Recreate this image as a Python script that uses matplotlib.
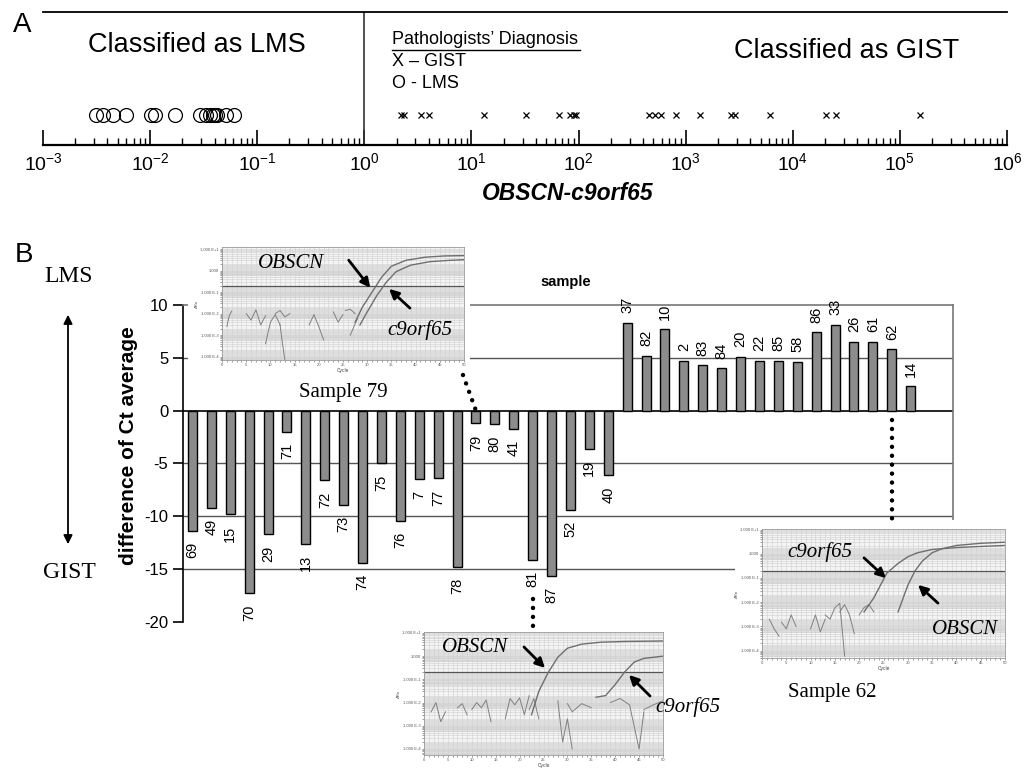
import numpy as np
import matplotlib
matplotlib.use('Agg')
import matplotlib.pyplot as plt
from matplotlib.lines import Line2D
from matplotlib.patches import Rectangle, FancyArrowPatch
from matplotlib.ticker import LogLocator, MultipleLocator, NullFormatter

plt.rcParams['font.family'] = 'Liberation Sans'
plt.rcParams['mathtext.fontset'] = 'custom'
plt.rcParams['mathtext.rm'] = 'Liberation Sans'
plt.rcParams['mathtext.it'] = 'Liberation Sans:italic'
plt.rcParams['mathtext.bf'] = 'Liberation Sans:bold'
plt.rcParams['axes.unicode_minus'] = False

# ---- panel A data: OBSCN / c9orf65 ratio ----
lms_ratio = [0.0031, 0.0036, 0.0045, 0.0060, 0.0103, 0.011, 0.0169, 0.029,
             0.033, 0.0365, 0.039, 0.0407, 0.0425, 0.0515, 0.061]
gist_ratio = [2.2, 2.35, 3.4, 4.0, 13, 32, 65, 84, 90, 94, 450, 520, 590,
              820, 1370, 2660, 2900, 6140, 20400, 25200, 153000]

# ---- panel B data: difference of Ct average per sample ----
samples = ['69', '49', '15', '70', '29', '71', '13', '72', '73', '74', '75',
           '76', '7', '77', '78', '79', '80', '41', '81', '87', '52', '19',
           '40', '37', '82', '10', '2', '83', '84', '20', '22', '85', '58',
           '86', '33', '26', '61', '62', '14']
ct_diff = [-11.4, -9.2, -9.8, -17.3, -11.7, -2.0, -12.6, -6.6, -8.9, -14.4,
           -5.0, -10.4, -6.5, -6.4, -14.8, -1.2, -1.3, -1.7, -14.1, -15.6,
           -9.4, -3.6, -6.1, 8.3, 5.2, 7.7, 4.7, 4.3, 4.0, 5.1, 4.7, 4.7,
           4.6, 7.4, 8.1, 6.5, 6.5, 5.8, 2.3]

# ---- amplification plot insets (cycle, delta Rn) ----
s79_obscn_cyc = [27.5, 29, 31, 33, 35, 38, 42, 46, 50]
s79_obscn_val = [4e-3, 0.02, 0.1, 0.5, 1.6, 3.0, 4.2, 4.8, 5.0]
s79_c9_cyc = [28.5, 30, 32, 34, 36, 39, 43, 47, 50]
s79_c9_val = [3e-3, 0.012, 0.07, 0.3, 0.9, 1.8, 2.6, 3.0, 3.2]
s79_noise = [([1, 1.5, 2], [2.5e-3, 8e-3, 1.3e-2]),
             ([5, 6, 7, 8, 9], [1e-2, 5e-3, 1.5e-2, 3e-3, 8e-3]),
             ([9, 10, 11, 12], [4e-4, 4e-3, 9e-3, 3e-3]),
             ([11, 12, 13, 14], [1e-2, 1.4e-2, 7e-3, 1e-2]),
             ([12, 12.5, 13], [3e-3, 4e-4, 7e-5]),
             ([18, 19, 20, 21], [3e-3, 9e-3, 2.5e-3, 6e-4]),
             ([23, 24, 25], [1.2e-2, 4e-3, 9e-3]),
             ([25.5, 26.5, 27.5], [1.4e-2, 1.6e-2, 1e-2]),
             ([26.5, 28], [1e-3, 6e-3])]

s81_obscn_cyc = [22.5, 24, 26, 28, 30, 33, 37, 42, 50]
s81_obscn_val = [3e-3, 0.03, 0.2, 0.9, 2.2, 3.3, 4.0, 4.3, 4.5]
s81_c9_cyc = [36, 38, 40, 42, 44, 46, 50]
s81_c9_val = [0.017, 0.02, 0.06, 0.21, 0.56, 0.8, 1.0]
s81_noise = [([1.5, 2.5, 3.5, 4.5], [4e-3, 1e-2, 1.5e-3, 4e-3]),
             ([7, 8, 9], [6e-3, 9e-3, 3e-3]),
             ([10, 11, 12, 13, 14], [5e-3, 1e-2, 6e-3, 1.3e-2, 1.5e-3]),
             ([17, 18, 19, 20, 21, 22], [2e-3, 1.5e-2, 8e-3, 1.6e-2, 3e-3, 2e-2]),
             ([22, 23, 24], [5e-3, 1.5e-2, 2e-3]),
             ([28, 29, 30, 31], [1.2e-2, 2e-4, 2e-3, 1e-4]),
             ([30, 31, 33, 35], [9e-3, 4e-3, 9e-3, 6e-3]),
             ([39, 41, 43, 45, 46], [1e-2, 1.5e-2, 8e-3, 1e-4, 4e-3]),
             ([46, 48, 50], [5e-3, 8e-3, 1.2e-2])]

s62_c9_cyc = [21, 23, 25.7, 28, 30, 32, 35, 40, 45, 50]
s62_c9_val = [4e-3, 0.015, 0.16, 0.4, 0.75, 1.1, 1.5, 1.8, 2.0, 2.2]
s62_obscn_cyc = [28, 30, 31.5, 33, 35, 37, 40, 45, 50]
s62_obscn_val = [4e-3, 0.05, 0.2, 0.5, 1.1, 1.6, 2.2, 2.7, 3.0]
s62_noise = [([1.5, 2.5, 3.5], [2e-3, 8e-4, 4e-4]),
             ([4, 5, 6, 7], [1.5e-3, 8e-4, 3e-3, 1e-3]),
             ([10, 11, 12, 13], [8e-4, 3e-3, 6e-4, 2e-3]),
             ([13, 14, 15, 16, 17], [3e-3, 2e-3, 6e-3, 9e-3, 6e-5]),
             ([16, 17, 18, 19], [4e-3, 8e-3, 3e-3, 5e-4]),
             ([20, 21, 22, 23], [3e-3, 6e-3, 8e-3, 4e-3])]

decades = [1e-4, 1e-3, 1e-2, 1e-1, 1, 10]
decade_labels = ['1.000 E-4', '1.000 E-3', '1.000 E-2', '1.000 E-1',
                 '1.000', '1.000 E+1']

W, H = 1028, 773
fig = plt.figure(figsize=(W / 100, H / 100), dpi=100)


def px_axes(l, t, r, b):
    return fig.add_axes([l / W, 1 - b / H, (r - l) / W, (b - t) / H])


def ftext(x, y, s, **kw):
    fig.text(x / W, 1 - y / H, s, ha='center', va='center', **kw)


def farrow(x0, y0, x1, y1, style='-|>', lw=2.0, ms=14):
    fig.add_artist(FancyArrowPatch((x0 / W, 1 - y0 / H), (x1 / W, 1 - y1 / H),
                                   transform=fig.transFigure, arrowstyle=style,
                                   mutation_scale=ms, lw=lw, color='k', zorder=4))


# ================= panel A =================
ax_a = px_axes(43, 12, 1007, 145)
ax_a.set_xscale('log')
ax_a.set_xlim(1e-3, 1e6)
ax_a.set_ylim(0, 1)
ax_a.plot(lms_ratio, np.full(len(lms_ratio), 0.226), 'o', mfc='none', mec='k',
          ms=10, mew=0.9, ls='none')
ax_a.plot(gist_ratio, np.full(len(gist_ratio), 0.226), 'x', color='k',
          ms=4.5, mew=0.9, ls='none')
ax_a.axvline(1, color='#333333', lw=1.2)
for s in ['left', 'right']:
    ax_a.spines[s].set_visible(False)
ax_a.spines['top'].set_linewidth(1.3)
ax_a.spines['bottom'].set_linewidth(1.6)
ax_a.set_yticks([])
ax_a.xaxis.set_major_locator(LogLocator(base=10, numticks=12))
ax_a.xaxis.set_minor_locator(LogLocator(base=10, subs=np.arange(2, 10), numticks=12))
ax_a.xaxis.set_minor_formatter(NullFormatter())
ax_a.tick_params(axis='x', which='major', direction='in', length=11, width=1.2,
                 labelsize=14, pad=5)
ax_a.tick_params(axis='x', which='minor', direction='in', length=5, width=1)

ftext(22, 25, 'A', fontsize=20)
ftext(197, 45, 'Classified as LMS', fontsize=19.5)
ftext(847, 51, 'Classified as GIST', fontsize=19.5)
fig.text(392 / W, 1 - 40 / H, 'Pathologists\u2019 Diagnosis', fontsize=13, va='center')
fig.add_artist(Line2D([392 / W, 580 / W], [1 - 50 / H, 1 - 50 / H], color='k', lw=1))
fig.text(392 / W, 1 - 62 / H, 'X \u2013 GIST', fontsize=13, va='center')
fig.text(392 / W, 1 - 83 / H, 'O - LMS', fontsize=13, va='center')
ftext(568, 193, 'OBSCN-c9orf65', fontsize=16.5, fontweight='bold', style='italic')

# ================= panel B =================
ax_b = px_axes(183, 305, 953, 622)
xpos = np.arange(len(samples))
ax_b.bar(xpos, ct_diff, width=0.48, color='#8c8c8c', edgecolor='k',
         linewidth=1, zorder=3)
ax_b.set_xlim(-0.5, 40.24)
ax_b.set_ylim(-20, 10)
for g in [5, -5, -10, -15]:
    ax_b.axhline(g, color='#555555', lw=1, zorder=1)
ax_b.axhline(0, color='k', lw=1.2, zorder=2)
ax_b.spines['bottom'].set_visible(False)
ax_b.spines['top'].set_color('#777777')
ax_b.spines['right'].set_color('#777777')
for s in ['top', 'right', 'left']:
    ax_b.spines[s].set_linewidth(1.2)
ax_b.set_xticks([])
ax_b.set_yticks([-20, -15, -10, -5, 0, 5, 10])
ax_b.tick_params(axis='y', direction='out', length=7, width=1.2, labelsize=12)
for x, v, lab in zip(xpos, ct_diff, samples):
    if v < 0:
        ax_b.annotate(lab, (x, v), xytext=(0, -8), textcoords='offset points',
                      rotation=90, ha='center', va='top', fontsize=10.5)
    else:
        ax_b.annotate(lab, (x, v), xytext=(0, 7), textcoords='offset points',
                      rotation=90, ha='center', va='bottom', fontsize=10.5)

ftext(566, 282, 'sample', fontsize=10.5, fontweight='bold')
ftext(129, 446, 'difference of Ct average', fontsize=15, fontweight='bold',
      rotation=90)
ftext(24, 255, 'B', fontsize=20)
ftext(69, 277, 'LMS', fontsize=17, family='Liberation Serif')
ftext(69, 572, 'GIST', fontsize=17, family='Liberation Serif')
farrow(68, 547, 68, 312, style='<|-|>', lw=1.3, ms=13)


# ================= insets =================
def draw_inset(frame, back, ylim, curves, noise):
    fig.add_artist(Rectangle((back[0] / W, 1 - back[3] / H),
                             (back[2] - back[0]) / W, (back[3] - back[1]) / H,
                             transform=fig.transFigure, facecolor='white',
                             edgecolor='none', zorder=0.5))
    ax = px_axes(*frame)
    ax.set_zorder(1)
    ax.set_facecolor('#f4f4f4')
    ax.set_yscale('log')
    ax.set_ylim(*ylim)
    ax.set_xlim(0, 50)
    for k in range(-4, 1):
        ax.axhspan(10.0 ** k * 0.55, 10.0 ** k * 1.8, color='#dedede', lw=0, zorder=0)
    ax.set_yticks(decades, labels=decade_labels)
    ax.yaxis.set_minor_locator(LogLocator(base=10, subs=np.arange(2, 10)))
    ax.yaxis.set_minor_formatter(NullFormatter())
    ax.xaxis.set_major_locator(MultipleLocator(5))
    ax.xaxis.set_minor_locator(MultipleLocator(1))
    ax.grid(which='both', color='#d0d0d0', lw=0.4)
    ax.set_axisbelow(True)
    ax.tick_params(which='both', labelsize=3, length=1.2, width=0.4, pad=1,
                   colors='#555555')
    ax.set_xlabel('Cycle', fontsize=3.5, labelpad=1, color='#444444')
    ax.set_ylabel('\u0394Rn', fontsize=3, labelpad=1, color='#444444')
    for s in ax.spines.values():
        s.set_color('#999999')
        s.set_linewidth(0.6)
    ax.axhline(0.2, color='#555555', lw=0.9)
    for cx, cy in noise:
        ax.plot(cx, cy, color='#808080', lw=0.7)
    for cx, cy in curves:
        ax.plot(cx, cy, color='#6f6f6f', lw=1.0)
    return ax


draw_inset((222, 247, 464, 360), (188, 238, 470, 380), (7e-5, 12.5),
           [(s79_obscn_cyc, s79_obscn_val), (s79_c9_cyc, s79_c9_val)], s79_noise)
draw_inset((424, 632, 663, 755), (395, 625, 670, 773), (5.5e-5, 11),
           [(s81_obscn_cyc, s81_obscn_val), (s81_c9_cyc, s81_c9_val)], s81_noise)
draw_inset((762, 529, 1005, 658), (735, 520, 1015, 680), (5e-5, 10.5),
           [(s62_c9_cyc, s62_c9_val), (s62_obscn_cyc, s62_obscn_val)], s62_noise)

serif_it = dict(fontsize=15, family='Liberation Serif', style='italic', zorder=5)
ftext(291, 263, 'OBSCN', **serif_it)
farrow(347, 258, 372, 290)
ftext(420, 330, 'c9orf65', **serif_it)
farrow(412, 310, 387, 287)
ftext(343, 393, 'Sample 79', fontsize=15, family='Liberation Serif')

ftext(475, 647, 'OBSCN', **serif_it)
farrow(522, 645, 547, 670)
ftext(688, 707, 'c9orf65', **serif_it)
farrow(652, 698, 627, 673)

ftext(820, 552, 'c9orf65', **serif_it)
farrow(862, 556, 888, 580)
ftext(965, 630, 'OBSCN', **serif_it)
farrow(940, 605, 916, 583)
ftext(832, 692, 'Sample 62', fontsize=15, family='Liberation Serif')


# dotted connectors from bars to insets
def to_px(ax, x, y):
    px, py = ax.transData.transform((x, y))
    return px, H - py


def dotted(x0, y0, x1, y1):
    fig.add_artist(Line2D([x0 / W, x1 / W], [1 - y0 / H, 1 - y1 / H],
                          transform=fig.transFigure, color='k', lw=3.2,
                          ls=(0, (0.01, 2.0)), dash_capstyle='round', zorder=4))


bx, by = to_px(ax_b, samples.index('79'), 0)
dotted(463, 375, bx, by)
bx, by = to_px(ax_b, samples.index('81'), -17.8)
dotted(bx, by, bx, 630)
bx, by = to_px(ax_b, samples.index('62'), -0.9)
dotted(bx, by, bx, 519)

fig.savefig('out.png', dpi=100)
